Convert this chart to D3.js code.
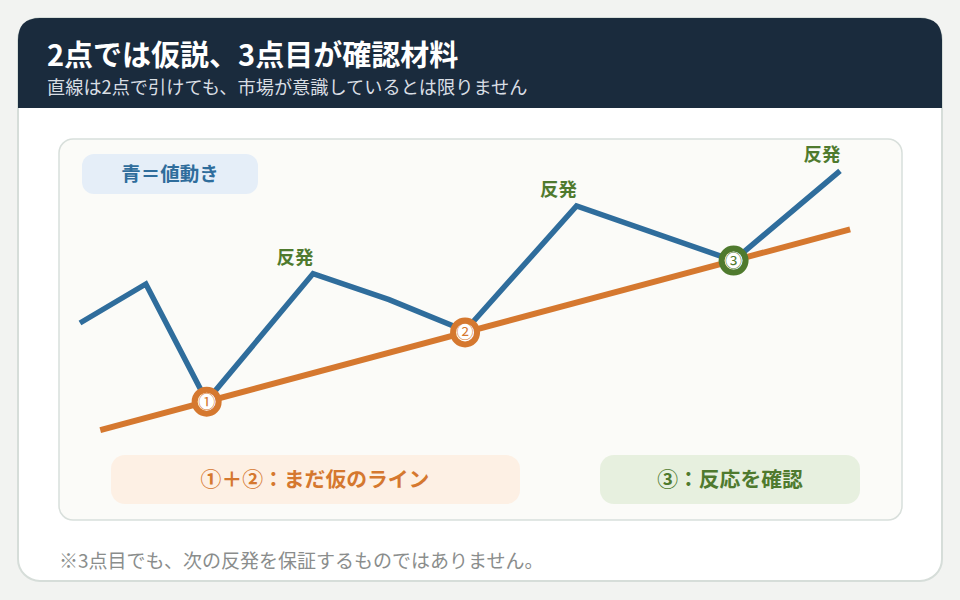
<!DOCTYPE html>
<html>
<head>
<meta charset="utf-8">
<script src="https://cdn.jsdelivr.net/npm/d3@7"></script>
<style>
  body { margin: 0; background: #f2f3f1; }
  svg { display: block; font-family: "Noto Sans CJK JP", "Noto Sans", sans-serif; }
</style>
</head>
<body>
<div id="chart"></div>
<script>
// price path (time step, price)
const priceT = [0, 6.5, 12.5, 23, 30.5, 38, 49, 64.5, 75];
const priceV = [45, 60, 15, 64, 54, 42, 90, 69, 103.5];
// trend line endpoints
const trendT = [2, 76];
const trendV = [3.8, 81];
// touch points on the line
const touchT = [12.5, 38, 64.5];
const touchLabels = ["①", "②", "③"];
const touchKinds = ["tentative", "tentative", "confirm"];
// rebound labels at peaks
const reboundIdx = [3, 6, 8];

const W = 960, H = 600;
const C = { navy: "#1a2b3d", blue: "#2f6d9c", orange: "#d5782f", green: "#4f7a2e" };

const svg = d3.select("#chart").append("svg")
  .attr("width", W).attr("height", H);

svg.append("rect").attr("width", W).attr("height", H).attr("fill", "#f2f3f1");

// card
svg.append("rect")
  .attr("x", 18).attr("y", 18).attr("width", 924).attr("height", 563)
  .attr("rx", 22).attr("fill", "#fff").attr("stroke", "#d6ddd9").attr("stroke-width", 2);

// header with rounded top only
const hx = 18, hy = 18, hw = 924, hh = 90, r = 22;
svg.append("path")
  .attr("d", `M${hx},${hy + hh} V${hy + r} Q${hx},${hy} ${hx + r},${hy} H${hx + hw - r} Q${hx + hw},${hy} ${hx + hw},${hy + r} V${hy + hh} Z`)
  .attr("fill", C.navy);

svg.append("text").attr("x", 47).attr("y", 66)
  .attr("fill", "#fff").attr("font-size", 29).attr("font-weight", 700)
  .text("2点では仮説、3点目が確認材料");
svg.append("text").attr("x", 47).attr("y", 94)
  .attr("fill", "#d9dee4").attr("font-size", 18.2)
  .text("直線は2点で引けても、市場が意識しているとは限りません");

// inner panel
svg.append("rect")
  .attr("x", 59).attr("y", 139).attr("width", 843).attr("height", 381)
  .attr("rx", 14).attr("fill", "#fbfbf8").attr("stroke", "#d8dfdb").attr("stroke-width", 1.5);

// legend chip
svg.append("rect").attr("x", 82).attr("y", 154).attr("width", 176).attr("height", 40)
  .attr("rx", 12).attr("fill", "#e5eef8");
svg.append("text").attr("x", 170).attr("y", 181).attr("text-anchor", "middle")
  .attr("fill", C.blue).attr("font-size", 19.5).attr("font-weight", 700).text("青＝値動き");

const x = d3.scaleLinear().domain([0, 75]).range([80, 840]);
const y = d3.scaleLinear().domain([0, 110]).range([440, 154]);

const priceData = priceT.map((t, i) => ({ t, v: priceV[i] }));
const trendAt = t => trendV[0] + (t - trendT[0]) * (trendV[1] - trendV[0]) / (trendT[1] - trendT[0]);

const line = d3.line().x(d => x(d.t)).y(d => y(d.v));

svg.append("path")
  .datum(trendT.map((t, i) => ({ t, v: trendV[i] })))
  .attr("d", line).attr("fill", "none")
  .attr("stroke", C.orange).attr("stroke-width", 6);

svg.append("path")
  .datum(priceData)
  .attr("d", line).attr("fill", "none")
  .attr("stroke", C.blue).attr("stroke-width", 5.5).attr("stroke-linejoin", "miter");

svg.selectAll(".rebound")
  .data(reboundIdx)
  .enter().append("text")
  .attr("class", "rebound")
  .attr("x", i => x(priceT[i]) - 18)
  .attr("y", i => y(priceV[i]) - 10)
  .attr("text-anchor", "middle")
  .attr("fill", C.green).attr("font-size", 18.5).attr("font-weight", 700)
  .text("反発");

const touch = svg.selectAll(".touch")
  .data(touchT.map((t, i) => ({ t, v: trendAt(t), label: touchLabels[i], kind: touchKinds[i] })))
  .enter().append("g")
  .attr("class", "touch")
  .attr("transform", d => `translate(${x(d.t)},${y(d.v)})`);

touch.append("circle").attr("r", 12)
  .attr("fill", "#fff")
  .attr("stroke", d => d.kind === "confirm" ? C.green : C.orange)
  .attr("stroke-width", 6);
touch.append("text").attr("text-anchor", "middle").attr("y", 6)
  .attr("font-size", 17)
  .attr("fill", d => d.kind === "confirm" ? C.green : C.orange)
  .text(d => d.label);

// bottom notes
svg.append("rect").attr("x", 111).attr("y", 455).attr("width", 409).attr("height", 49)
  .attr("rx", 14).attr("fill", "#fdf0e4");
svg.append("text").attr("x", 315).attr("y", 487).attr("text-anchor", "middle")
  .attr("fill", C.orange).attr("font-size", 20.8).attr("font-weight", 700)
  .text("①＋②：まだ仮のライン");

svg.append("rect").attr("x", 600).attr("y", 455).attr("width", 260).attr("height", 49)
  .attr("rx", 14).attr("fill", "#e7f0df");
svg.append("text").attr("x", 730).attr("y", 487).attr("text-anchor", "middle")
  .attr("fill", C.green).attr("font-size", 20.8).attr("font-weight", 700)
  .text("③：反応を確認");

svg.append("text").attr("x", 59).attr("y", 568)
  .attr("fill", "#8a8d8c").attr("font-size", 19)
  .text("※3点目でも、次の反発を保証するものではありません。");
</script>
</body>
</html>
